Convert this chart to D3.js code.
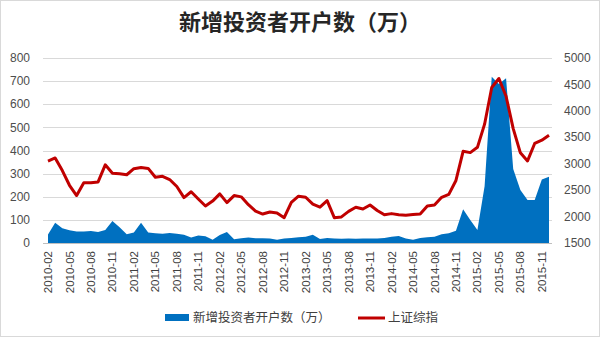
<!DOCTYPE html>
<html><head><meta charset="utf-8">
<script src="https://cdn.jsdelivr.net/npm/d3@7"></script>
<style>body{margin:0;background:#fff}svg{display:block}</style>
</head><body>
<svg id="c" width="600" height="338"></svg>
<script>
// Months from 2010-02 to 2015-12
const months = [];
for (let y = 2010; y <= 2015; y++) for (let m = 1; m <= 12; m++) {
  if (y === 2010 && m < 2) continue;
  months.push(y + "-" + String(m).padStart(2, "0"));
}
// New investor accounts (10k)
const newAccounts = [37,88,64,55,50,50,52,48,56,95,68,38,45,88,45,42,40,43,40,36,
  24,32,29,14,35,48,16,21,24,21,21,20,14,19,22,25,27,36,17,22,
  19,18,20,18,19,20,19,22,27,30,20,14,22,25,27,38,42,53,146,100,
  56,245,719,688,712,320,229,186,186,275,287];
// Shanghai Composite index (month end)
const sseIndex = [3051,3109,2870,2592,2398,2638,2638,2656,2979,2820,2808,
  2791,2906,2928,2911,2743,2762,2701,2568,2359,2469,2333,2199,
  2293,2429,2263,2397,2373,2225,2103,2048,2086,2069,1980,2269,
  2385,2366,2237,2178,2301,1979,1994,2098,2175,2142,2220,2116,
  2033,2056,2033,2026,2039,2048,2202,2217,2364,2420,2683,3235,
  3210,3310,3748,4442,4612,4277,3664,3206,3053,3383,3445,3539];
const leftTicks = [0,100,200,300,400,500,600,700,800];
const rightTicks = [1500,2000,2500,3000,3500,4000,4500,5000];
const title = "新增投资者开户数（万）";
const seriesNames = ["新增投资者开户数（万）", "上证综指"];

const svg = d3.select("#c");
const font = "'Liberation Sans', Arial, sans-serif";
const cjk = "'Noto Sans CJK SC', sans-serif";

svg.append("rect").attr("x",0.5).attr("y",0.5).attr("width",599).attr("height",336)
  .attr("fill","#fff").attr("stroke","#d9d9d9");

const x = d3.scaleLinear().domain([0, months.length - 1]).range([48, 549]);
const yL = d3.scaleLinear().domain([0, 800]).range([243, 58]);
const yR = d3.scaleLinear().domain([1500, 5000]).range([243, 58]);

// grid
svg.append("g").selectAll("line").data(leftTicks.slice(1)).join("line")
  .attr("x1", 43).attr("x2", 552)
  .attr("y1", d => Math.round(yL(d)) + 0.5).attr("y2", d => Math.round(yL(d)) + 0.5)
  .attr("stroke", "#d9d9d9").attr("stroke-width", 1);

// area
const area = d3.area().x((d,i) => x(i)).y0(yL(0)).y1(d => yL(d));
svg.append("path").datum(newAccounts).attr("d", area).attr("fill", "#0070c0");

// baseline
svg.append("line").attr("x1",43).attr("x2",552).attr("y1",243.5).attr("y2",243.5)
  .attr("stroke","#bfbfbf");

// line
const line = d3.line().x((d,i) => x(i)).y(d => yR(d));
svg.append("path").datum(sseIndex).attr("d", line).attr("fill","none")
  .attr("stroke","#c00000").attr("stroke-width",3).attr("stroke-linejoin","round");

// left axis labels
svg.append("g").selectAll("text").data(leftTicks).join("text")
  .attr("x", 30).attr("y", d => yL(d)).attr("dy","0.35em")
  .attr("text-anchor","end").attr("font-family",font).attr("font-size",12)
  .attr("fill","#4d4d4d").text(d => d);
// right axis labels
svg.append("g").selectAll("text").data(rightTicks).join("text")
  .attr("x", 564).attr("y", d => yR(d)).attr("dy","0.35em")
  .attr("text-anchor","start").attr("font-family",font).attr("font-size",12)
  .attr("fill","#4d4d4d").text(d => d);

// x labels every 3 months
const xl = months.map((m,i) => ({m,i})).filter(d => d.i % 3 === 0);
svg.append("g").selectAll("text").data(xl).join("text")
  .attr("transform", d => `translate(${x(d.i)},251) rotate(-90)`)
  .attr("dy","0.35em").attr("text-anchor","end")
  .attr("font-family",font).attr("font-size",11.5).attr("fill","#404040")
  .text(d => d.m);

// title
svg.append("text").attr("x",300).attr("y",30).attr("text-anchor","middle")
  .attr("font-family",cjk).attr("font-weight","bold").attr("font-size",22)
  .attr("fill","#262626").text(title);

// legend
svg.append("rect").attr("x",165).attr("y",314).attr("width",24).attr("height",7).attr("fill","#0070c0");
svg.append("text").attr("x",193).attr("y",318).attr("dy","0.35em")
  .attr("font-family",cjk).attr("font-size",12.5).attr("fill","#404040").text(seriesNames[0]);
svg.append("line").attr("x1",358).attr("x2",385).attr("y1",318).attr("y2",318)
  .attr("stroke","#c00000").attr("stroke-width",3);
svg.append("text").attr("x",388).attr("y",318).attr("dy","0.35em")
  .attr("font-family",cjk).attr("font-size",12.5).attr("fill","#404040").text(seriesNames[1]);
</script>
</body></html>
